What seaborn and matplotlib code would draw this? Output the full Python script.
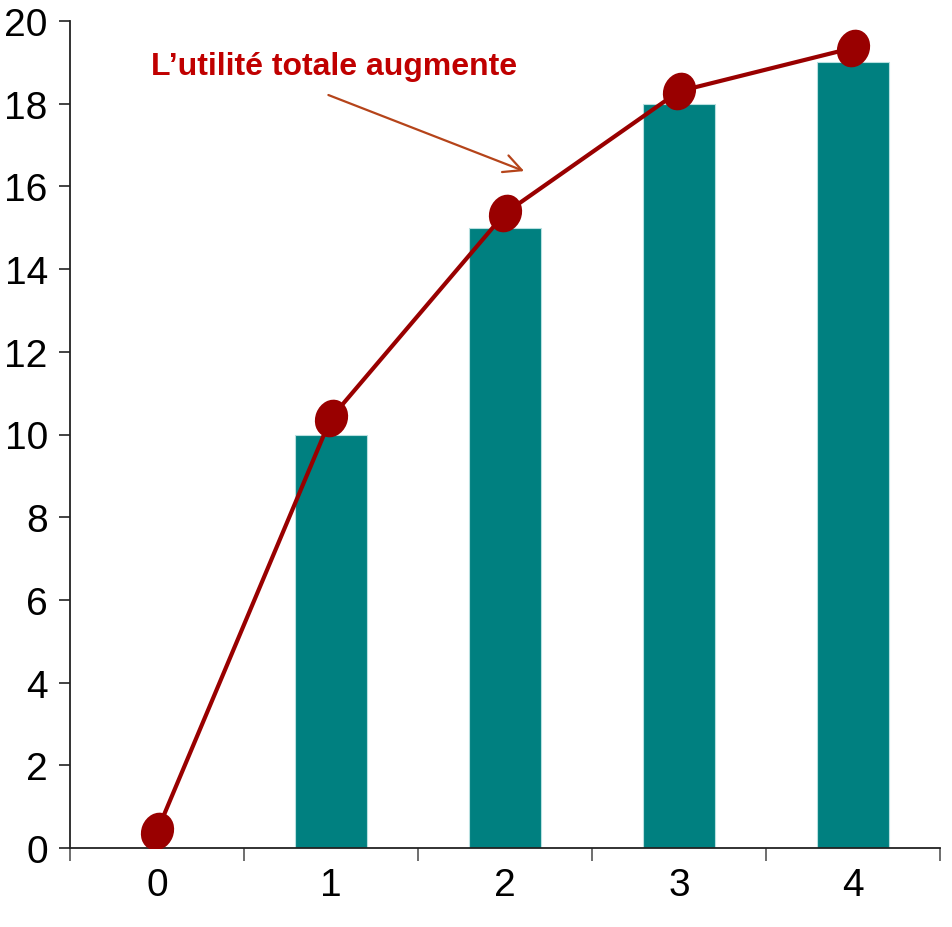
import numpy as np
import matplotlib
matplotlib.use("Agg")
import matplotlib.pyplot as plt
from matplotlib.path import Path
from matplotlib.transforms import Affine2D
from matplotlib.ticker import FixedLocator, NullFormatter
import seaborn as sns
import pandas as pd

# Quantities consumed and utility values
quantities = [0, 1, 2, 3, 4]
bar_utility = [0, 10, 15, 18, 19]
curve_utility = [0.4, 10.4, 15.35, 18.3, 19.35]
y_ticks = [0, 2, 4, 6, 8, 10, 12, 14, 16, 18, 20]
annotation = "L\u2019utilité totale augmente"

sns.set_theme(style="white")
plt.rcParams["font.family"] = ["Liberation Sans", "DejaVu Sans"]

fig = plt.figure(figsize=(9.53, 9.28), dpi=100)
ax = fig.add_axes([70 / 953, 79 / 928, 870 / 953, 827 / 928])

df = pd.DataFrame({"q": quantities, "u": bar_utility})
sns.barplot(data=df, x="q", y="u", color="#008080", saturation=1,
            width=0.41, edgecolor="#B8E0E0", linewidth=0.8, ax=ax)

# Tilted ellipse marker
ellipse = Path.unit_circle().transformed(Affine2D().scale(0.84, 1.0).rotate_deg(-22))

sns.lineplot(x=quantities, y=curve_utility, color="#990000", linewidth=3.0,
             marker=ellipse, markersize=28, markeredgewidth=0,
             markerfacecolor="#990000", ax=ax, zorder=5)

ax.set_xlim(-0.5, 4.5)
ax.set_ylim(0, 20)
ax.set_xlabel("")
ax.set_ylabel("")

ax.set_yticks(y_ticks)
ax.set_yticklabels([str(t) for t in y_ticks])
ax.set_xticks(quantities)
ax.set_xticklabels([str(q) for q in quantities])
ax.xaxis.set_minor_locator(FixedLocator(np.arange(-0.5, 5.0, 1.0)))
ax.xaxis.set_minor_formatter(NullFormatter())

ax.tick_params(axis="y", which="major", direction="out", length=8, width=1.2,
               color="#222222", labelsize=28, labelcolor="black", pad=8, left=True)
ax.tick_params(axis="x", which="major", length=0, labelsize=28,
               labelcolor="black", pad=14)
ax.tick_params(axis="x", which="minor", direction="out", length=9, width=1.2,
               color="#555555", bottom=True)

for side in ["top", "right"]:
    ax.spines[side].set_visible(False)
for side in ["left", "bottom"]:
    ax.spines[side].set_color("#222222")
    ax.spines[side].set_linewidth(1.3)

ax.text(1.02, 18.72, annotation, ha="center", va="baseline", color="#C00000",
        fontsize=23, fontweight="bold")
ax.annotate("", xy=(2.11, 16.37), xytext=(0.985, 18.21),
            arrowprops=dict(arrowstyle="->", color="#B5441A", lw=1.6,
                            mutation_scale=32, shrinkA=0, shrinkB=0))

fig.savefig("out.png", dpi=100)
